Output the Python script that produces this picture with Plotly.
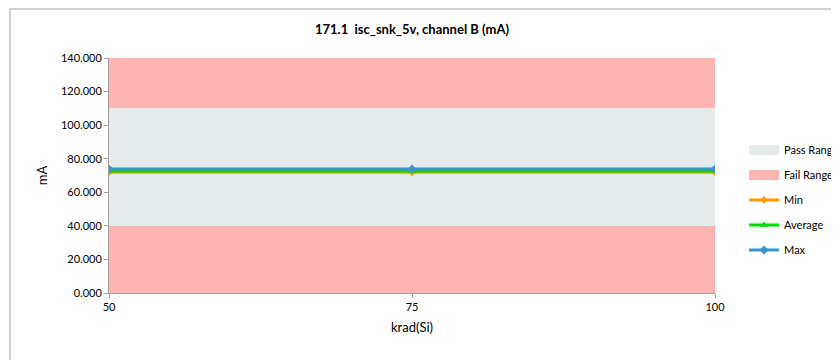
import plotly.graph_objects as go

x_vals = [50, 75, 100]
min_vals = [72.0, 72.0, 72.0]
avg_vals = [72.7, 72.7, 72.7]
max_vals = [73.9, 73.9, 73.9]

fail_low = 40.0
pass_high = 110.0
axis_max = 140.0
y_ticks = [0, 20, 40, 60, 80, 100, 120, 140]

PASS_COLOR = "#E5EAEA"
FAIL_COLOR = "#FFB3B3"

band_x = [(x_vals[0] + x_vals[-1]) / 2]
band_w = [x_vals[-1] - x_vals[0]]

fig = go.Figure()
# background bands (data-driven bars)
fig.add_trace(go.Bar(x=band_x, y=[fail_low], base=[0], width=band_w,
                     marker=dict(color=FAIL_COLOR, line=dict(width=0)),
                     showlegend=False, hoverinfo="skip"))
fig.add_trace(go.Bar(x=band_x, y=[pass_high - fail_low], base=[fail_low], width=band_w,
                     marker=dict(color=PASS_COLOR, line=dict(width=0)),
                     showlegend=False, hoverinfo="skip"))
fig.add_trace(go.Bar(x=band_x, y=[axis_max - pass_high], base=[pass_high], width=band_w,
                     marker=dict(color=FAIL_COLOR, line=dict(width=0)),
                     showlegend=False, hoverinfo="skip"))
# legend entries for bands (wide rectangle swatches)
fig.add_trace(go.Scatter(x=[None], y=[None], mode="lines", name="Pass Range",
                         line=dict(color=PASS_COLOR, width=10), legendgroup="g1"))
fig.add_trace(go.Scatter(x=[None], y=[None], mode="lines", name="Fail Range",
                         line=dict(color=FAIL_COLOR, width=10), legendgroup="g2"))

fig.add_trace(go.Scatter(x=x_vals, y=min_vals, mode="lines+markers", name="Min",
                         line=dict(color="#FF9900", width=3),
                         marker=dict(symbol="diamond", size=6, color="#FF9900"),
                         legendgroup="g3"))
fig.add_trace(go.Scatter(x=x_vals, y=avg_vals, mode="lines+markers", name="Average",
                         line=dict(color="#00DD00", width=3),
                         marker=dict(symbol="triangle-up", size=7, color="#00DD00"),
                         legendgroup="g4"))
fig.add_trace(go.Scatter(x=x_vals, y=max_vals, mode="lines+markers", name="Max",
                         line=dict(color="#3A96CC", width=3),
                         marker=dict(symbol="diamond", size=7, color="#3A96CC"),
                         legendgroup="g5"))

# page body has an 8px margin, so margins are offset to place the plot area as in the reference
fig.update_layout(
    width=839, height=360,
    barmode="overlay",
    bargap=0,
    paper_bgcolor="white",
    plot_bgcolor="white",
    font=dict(family="Lato, Carlito, Calibri, sans-serif", size=11, color="#000000"),
    title=dict(text="<b>171.1  isc_snk_5v, channel B (mA)</b>", x=0.5, xanchor="center",
               xref="paper", y=0.94, yanchor="middle", font=dict(size=13), automargin=False),
    margin=dict(l=101, r=132, t=50, b=75, autoexpand=False),
    showlegend=True,
    legend=dict(x=1.048, xanchor="left", y=0.396, yanchor="middle",
                font=dict(size=11), traceorder="grouped",
                itemwidth=30, tracegroupgap=6, bgcolor="rgba(0,0,0,0)"),
    xaxis=dict(range=[x_vals[0], x_vals[-1]], tickvals=x_vals, ticktext=[str(v) for v in x_vals],
               showgrid=False, zeroline=False, showline=True, linecolor="#A0A0A0", linewidth=1,
               ticks="outside", ticklen=4, tickcolor="#A0A0A0", automargin=False,
               title=dict(text="krad(Si)", font=dict(size=13), standoff=10)),
    yaxis=dict(range=[0, axis_max], tickvals=y_ticks, tickformat=".3f",
               showgrid=False, zeroline=False, showline=True, linecolor="#A0A0A0", linewidth=1,
               ticks="outside", ticklen=4, tickcolor="#A0A0A0", automargin=False,
               title=dict(text="mA", font=dict(size=13), standoff=10)),
    shapes=[dict(type="rect", xref="paper", yref="paper", x0=-0.1634, x1=1.25, y0=-0.35, y1=1.2085,
                 line=dict(color="#A0A0A0", width=1), fillcolor="rgba(0,0,0,0)", layer="below")],
)

fig.write_html("out.html")
